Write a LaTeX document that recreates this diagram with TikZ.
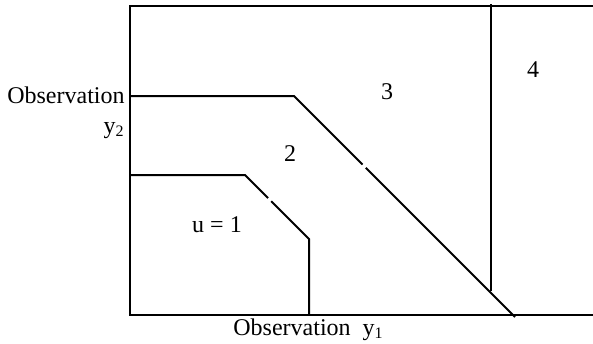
\documentclass[tikz,border=0pt]{standalone}
\usepackage{fontspec}
\setmainfont{Liberation Serif}
\usetikzlibrary{positioning, calc}

\begin{document}
\begin{tikzpicture}[
    x=0.5pt, y=-0.5pt,
    edge/.style={line width=1pt},
    lbl/.style={font=\fontsize{12}{14}\selectfont, inner sep=0pt}
]
\useasboundingbox (0,0) rectangle (593,343);

% Frame
\draw[edge] (593,6) -- (130,6) -- (130,315) -- (593,315);
\draw[edge] (491,4) -- (491,291);

% Boundary 2/3
\coordinate (o1) at (130,96);
\coordinate (o2) at (294,96);
\coordinate (o3) at (515,317);
\draw[edge] (o1) -- (o2) -- ($(o2)!0.31!(o3)$);
\draw[edge] ($(o2)!0.325!(o3)$) -- (o3);

% Boundary 1/2
\coordinate (i1) at (130,175);
\coordinate (i2) at (245,175);
\coordinate (i3) at (309,239);
\coordinate (i4) at (309,315);
\draw[edge] (i1) -- (i2) -- ($(i2)!0.36!(i3)$);
\draw[edge] ($(i2)!0.41!(i3)$) -- (i3) -- (i4);

% Labels
\node[lbl, anchor=base east] (obs2) at (125,103) {Observation};
\node[lbl, anchor=base east] (y2) at (125,133) {y\textsubscript{2}};
\node[lbl, anchor=base west] (obs1) at (233,335) {Observation\ \ y\textsubscript{1}};
\node[lbl] (r1) at (217,225) {u = 1};
\node[lbl] (r2) at (290,154) {2};
\node[lbl] (r3) at (387,92) {3};
\node[lbl] (r4) at (533,70) {4};

\end{tikzpicture}
\end{document}
